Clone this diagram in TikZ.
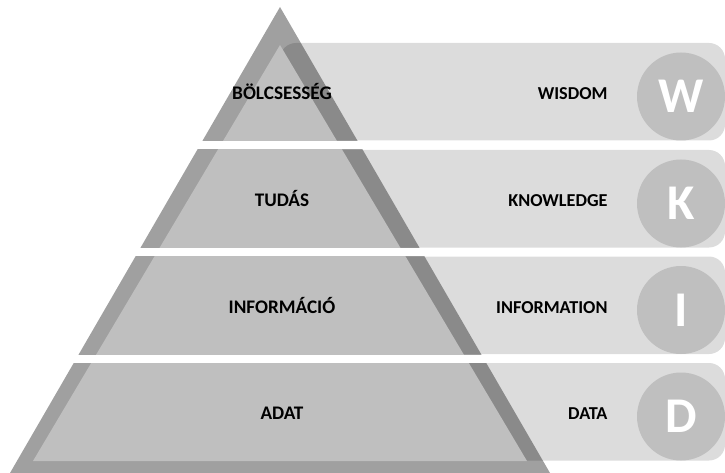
\documentclass[tikz,border=0pt]{standalone}
\usepackage{fontspec}
\setmainfont{Carlito}
\usetikzlibrary{calc}

\definecolor{bandgray}{HTML}{DCDCDC}
\definecolor{badgegray}{HTML}{BFBFBF}
\definecolor{innergray}{HTML}{BFBFBF}
\definecolor{outergray}{HTML}{A0A0A0}

\begin{document}
\begin{tikzpicture}[
  x = 1pt, y = -1pt,
  band/.style={fill=bandgray, rounded corners=16pt},
  badge/.style={circle, fill=badgegray, minimum size=88pt, inner sep=0pt, text=white,
    font=\bfseries\fontsize{50}{50}\selectfont},
  outer/.style={fill=outergray, blend mode=multiply},
  inner/.style={fill=innergray},
  huname/.style={anchor=base, font=\bfseries\fontsize{19.2}{19.2}\selectfont},
  enname/.style={anchor=base east, font=\bfseries\fontsize{18.2}{18.2}\selectfont}
]
%general params
\def\bh{97.5} %band height
\def\bx{280} %band left / apex x
\def\cx{681} %badge centre x
\useasboundingbox (0,0) rectangle (725,473);

%bands with badges (top y / level / english / letter)
\foreach \t/\i/\en/\l in {43/1/WISDOM/W, 150/2/KNOWLEDGE/K, 256.5/3/INFORMATION/I, 363/4/DATA/D}{
  \fill[band] (\bx,\t) rectangle (725,\t+\bh);
  \node[badge] (badge-\i) at (\cx,\t+\bh-44) {\l};
  \node[enname] (en-\i) at (611,\t+\bh/2+8) {\en};
}

%pyramid pieces
\foreach \t/\b in {0/140.5, 150/247.5, 256.5/354, 363/473}{
  \begin{scope}
    \clip (0,\t) rectangle (725,\b);
    \fill[outer] (\bx,7) -- (550,473) -- (10,473) -- cycle;
    \fill[inner] (\bx,45) -- (527,461) -- (33,461) -- cycle;
  \end{scope}
}

%hungarian labels
\node[huname] (hu-1) at (282,99.5) {BÖLCSESSÉG};
\node[huname] (hu-2) at (282,206.5) {TUDÁS};
\node[huname] (hu-3) at (282,313) {INFORMÁCIÓ};
\node[huname] (hu-4) at (282,419.5) {ADAT};

\end{tikzpicture}
\end{document}
